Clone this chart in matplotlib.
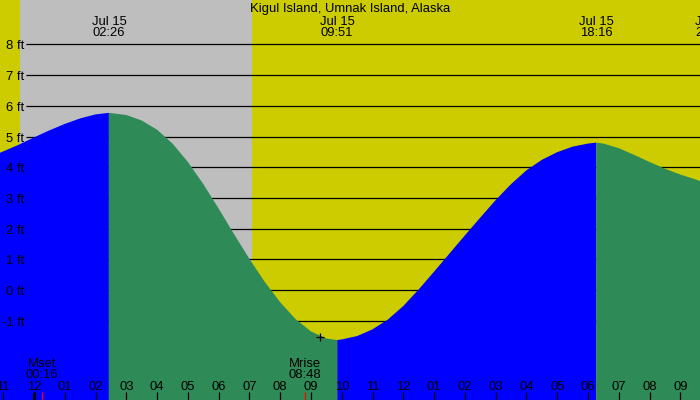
import matplotlib
matplotlib.use('Agg')
import matplotlib.pyplot as plt
import matplotlib.transforms as mtransforms
import numpy as np

plt.rcParams['font.family'] = ['Liberation Sans', 'DejaVu Sans']

title = 'Kigul Island, Umnak Island, Alaska'

# water level, hours from midnight Jul 15 -> feet
tide_hours = [-1.105, -0.5, 0.0, 0.5, 1.0, 1.5, 2.0, 2.433, 3.0, 3.5, 4.0, 4.5,
              5.0, 5.5, 6.0, 6.5, 7.0, 7.5, 8.0, 8.5, 9.0, 9.5, 9.85, 10.0,
              10.5, 11.0, 11.5, 12.0, 12.5, 13.0, 13.5, 14.0, 14.5, 15.0, 15.5,
              16.0, 16.5, 17.0, 17.5, 18.0, 18.267, 18.5, 19.0, 19.5, 20.0,
              20.5, 21.0, 21.5, 21.64]
tide_ft = [4.47, 4.73, 4.97, 5.20, 5.41, 5.59, 5.72, 5.77, 5.70, 5.52, 5.22, 4.77,
           4.17, 3.45, 2.65, 1.82, 1.01, 0.26, -0.40, -0.95, -1.35, -1.58, -1.63, -1.61,
           -1.50, -1.28, -0.96, -0.52, 0.02, 0.60, 1.19, 1.78, 2.36, 2.93, 3.45,
           3.90, 4.24, 4.49, 4.67, 4.77, 4.80, 4.77, 4.62, 4.40, 4.17,
           3.95, 3.76, 3.60, 3.55]

# high/low turning points (hours) -> flood (blue) / ebb (green)
high_hours = [2.433, 18.267]
low_hours = [9.85]

# extreme labels at the top
top_hours = [2.433, 9.85, 18.267, 22.03]
top_times = ['02:26', '09:51', '18:16', '22:02']

sunset = -0.45     # 23:33 Jul 14
sunrise = 7.07     # 07:04

moon_hours = [0.267, 8.8]
moon_names = ['Mset', 'Mrise']
moon_times = ['00:16', '08:48']

grid_ft = [-1, 0, 1, 2, 3, 4, 5, 6, 7, 8]
hour_ticks = list(range(-1, 22))
hour_labels = ['%02d' % ((h - 1) % 12 + 1) for h in hour_ticks]

now_mark = (9.29, -1.54)

YELLOW = '#cccc00'
GRAY = '#bebebe'
BLUE = '#0000ff'
GREEN = '#2e8b57'

# pixel scale of the original: 30.78 px per hour, 30.7 px per foot
PXH = 30.78
PXF = 30.7
x0, x1 = -34 / PXH, (700 - 34) / PXH
y0, y1 = -110 / PXF, 290 / PXF

fig = plt.figure(figsize=(7, 4), dpi=100, facecolor=YELLOW)
ax = fig.add_axes([0, 0, 1, 1])
ax.set_xlim(x0, x1)
ax.set_ylim(y0, y1)
ax.axis('off')

ax.axvspan(sunset, sunrise, color=GRAY, lw=0, zorder=0)
ax.hlines(grid_ft, -8 / PXH, x1, color='k', lw=0.9, zorder=1)

h = np.array(tide_hours)
ft = np.array(tide_ft)
rise = (h <= high_hours[0]) | ((h >= low_hours[0]) & (h <= high_hours[1]))
fall = ((h >= high_hours[0]) & (h <= low_hours[0])) | (h >= high_hours[1])
ax.fill_between(h, ft, y0, where=rise, color=BLUE, lw=0, zorder=2)
ax.fill_between(h, ft, y0, where=fall, color=GREEN, lw=0, zorder=2)

ax.plot(*now_mark, marker='+', color='k', ms=6, mew=0.9, zorder=5)

fs = 9.4
# y axis labels
lab_tr = mtransforms.blended_transform_factory(mtransforms.IdentityTransform(), ax.transData)
for v in grid_ft:
    ax.text(24, v - 5 / PXF, '%d ft' % v, transform=lab_tr, ha='right', va='baseline',
            fontsize=fs, zorder=6)

top_tr = mtransforms.blended_transform_factory(ax.transData, mtransforms.IdentityTransform())
ax.text(350, 400 - 12, title, transform=mtransforms.IdentityTransform(),
        ha='center', va='baseline', fontsize=fs)
for t, s in zip(top_hours, top_times):
    ax.text(t, 400 - 24.7, 'Jul 15', transform=top_tr, ha='center', va='baseline', fontsize=fs)
    ax.text(t, 400 - 36, s, transform=top_tr, ha='center', va='baseline', fontsize=fs)

for t, n, s in zip(moon_hours, moon_names, moon_times):
    ax.text(t, 400 - 366.7, n, transform=top_tr, ha='center', va='baseline', fontsize=fs, zorder=6)
    ax.text(t, 400 - 377.7, s, transform=top_tr, ha='center', va='baseline', fontsize=fs, zorder=6)

# hour ticks along the bottom
tick_top = y0 + 8 / PXF
ax.vlines(hour_ticks, y0, tick_top, color='k', lw=0.9, zorder=6)
ax.vlines([-0.01], y0, tick_top, color='k', lw=2.2, zorder=6)
ax.vlines(moon_hours, y0, tick_top, color='red', lw=0.9, zorder=7)
for t, s in zip(hour_ticks, hour_labels):
    ax.text(t, 400 - 390, s, transform=top_tr, ha='center', va='baseline', fontsize=fs, zorder=6)

fig.savefig('out.png', dpi=100, facecolor=YELLOW)
